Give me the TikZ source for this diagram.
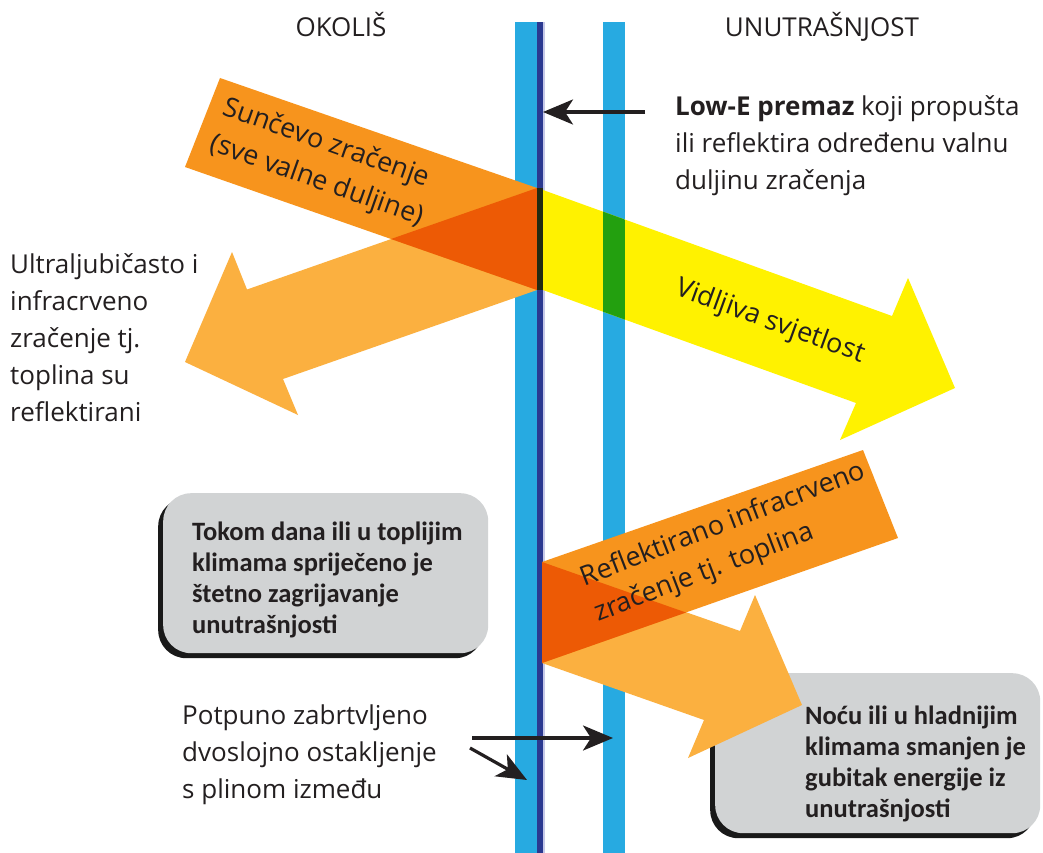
\documentclass[tikz,border=0pt]{standalone}
\usepackage{fontspec}
\setmainfont{Open Sans}
\newfontfamily\boxfont{Carlito}
\usetikzlibrary{arrows.meta,shadows}
\definecolor{paneblue}{HTML}{27AAE1}
\definecolor{navy}{HTML}{2B3990}
\definecolor{lav}{HTML}{C5C8E8}
\definecolor{sunorange}{HTML}{F7941D}
\definecolor{lightorange}{HTML}{FBB040}
\definecolor{deeporange}{HTML}{ED5A05}
\definecolor{sunyellow}{HTML}{FFF200}
\definecolor{glassgreen}{HTML}{23A00F}
\definecolor{darkstrip}{HTML}{222B12}
\definecolor{boxgray}{HTML}{D1D3D4}
\definecolor{ink}{HTML}{231F20}
\begin{document}
\begin{tikzpicture}[x=1pt,y=-1pt,
  lbl/.style={text=ink, inner sep=0pt, align=left, font=\fontsize{26}{37}\selectfont},
  arrowlbl/.style={text=ink, inner sep=0pt, align=left, font=\fontsize{27}{38}\selectfont},
  graybox/.style={fill=boxgray, rounded corners=28pt, inner sep=0pt,
    minimum width=325pt, minimum height=160pt,
    drop shadow={shadow xshift=-5pt, shadow yshift=-5pt, fill=black, opacity=0.9}},
  boxtxt/.style={text=ink, inner sep=0pt, align=left, font=\boxfont\bfseries\fontsize{26.5}{31}\selectfont},
  conn/.style={line width=3.2pt, draw=ink, -{Stealth[length=30pt,width=25pt,inset=8pt]}}
]
\useasboundingbox (0,0) rectangle (1043,853);
\fill[white] (0,0) rectangle (1043,853);

% grey boxes
\node[graybox, anchor=north west] (box1) at (163,493) {};
\node[graybox, anchor=north west] (box2) at (715,673) {};

% glass panes
\fill[paneblue] (515,22) rectangle (537,853);
\fill[navy] (537,22) rectangle (543,853);
\fill[lav] (543,22) rectangle (545,853);
\fill[paneblue] (603,22) rectangle (625,853);

% visible light (yellow)
\fill[sunyellow] (543,190) -- (892,316) -- (908,278) -- (955,388) -- (840,440) -- (856,403) -- (543,290) -- cycle;
\begin{scope}
  \clip (543,190) -- (892,316) -- (908,278) -- (955,388) -- (840,440) -- (856,403) -- (543,290) -- cycle;
  \fill[glassgreen] (603,0) rectangle (625,853);
\end{scope}

% reflected UV / IR (upper, light orange)
\fill[lightorange] (537,188) -- (247,289.5) -- (232,252) -- (185,362) -- (298,415) -- (283,379) -- (537,290) -- cycle;
% incoming sun radiation
\fill[sunorange] (220,78) -- (537,188) -- (537,290) -- (185,167) -- cycle;
\fill[deeporange] (537,188) -- (537,290) -- (391,239) -- cycle;
\fill[darkstrip] (537,188) rectangle (543,290);

% lower: reflected into interior (light orange) and infrared band
\fill[lightorange] (542,562) -- (740,631) -- (755,595) -- (802,705) -- (688,758) -- (704,720) -- (542,663) -- cycle;
\fill[sunorange] (542,562) -- (863,450) -- (898,538) -- (542,663) -- cycle;
\fill[deeporange] (542,562) -- (542,663) -- (686,612.5) -- cycle;

% headings
\node[lbl, anchor=base] (okolis) at (341,37) {OKOLIŠ};
\node[lbl, anchor=base] (unutra) at (822,37) {UNUTRAŠNJOST};

% labels
\node[lbl, anchor=north west] (lowe) at (675,95) {\textbf{Low-E premaz} koji propušta\\ili reflektira određenu valnu\\duljinu zračenja};
\node[lbl, anchor=north west] (uvir) at (10,253) {Ultraljubičasto i\\infracrveno\\zračenje tj.\\toplina su\\reflektirani};
\node[lbl, anchor=north west] (seal) at (182,705) {Potpuno zabrtvljeno\\dvoslojno ostakljenje\\s plinom između};

% arrow labels
\node[arrowlbl, rotate=-19.5] (sunlbl) at (323,163) {Sunčevo zračenje\\(sve valne duljine)};
\node[arrowlbl, rotate=-20] (vislbl) at (770,322) {Vidljiva svjetlost};
\node[arrowlbl, rotate=21] (irlbl) at (730,543) {Reflektirano infracrveno\\zračenje tj. toplina};

% box texts
\node[boxtxt, anchor=north west] (box1txt) at ([xshift=29pt,yshift=-29pt]box1.north west) {Tokom dana ili u toplijim\\klimama spriječeno je\\štetno zagrijavanje\\unutrašnjosti};
\node[boxtxt, anchor=north west] (box2txt) at ([xshift=90pt,yshift=-33pt]box2.north west) {Noću ili u hladnijim\\klimama smanjen je\\gubitak energije iz\\unutrašnjosti};

% pointer arrows
\coordinate (loweS) at (645,112);
\coordinate (loweE) at (543,112);
\coordinate (sealS1) at (472,738);
\coordinate (sealE1) at (613,738);
\coordinate (sealS2) at (470,748);
\coordinate (sealE2) at (527,780);
\draw[conn] (loweS) -- (loweE);
\draw[conn] (sealS1) -- (sealE1);
\draw[conn] (sealS2) -- (sealE2);
\end{tikzpicture}
\end{document}
